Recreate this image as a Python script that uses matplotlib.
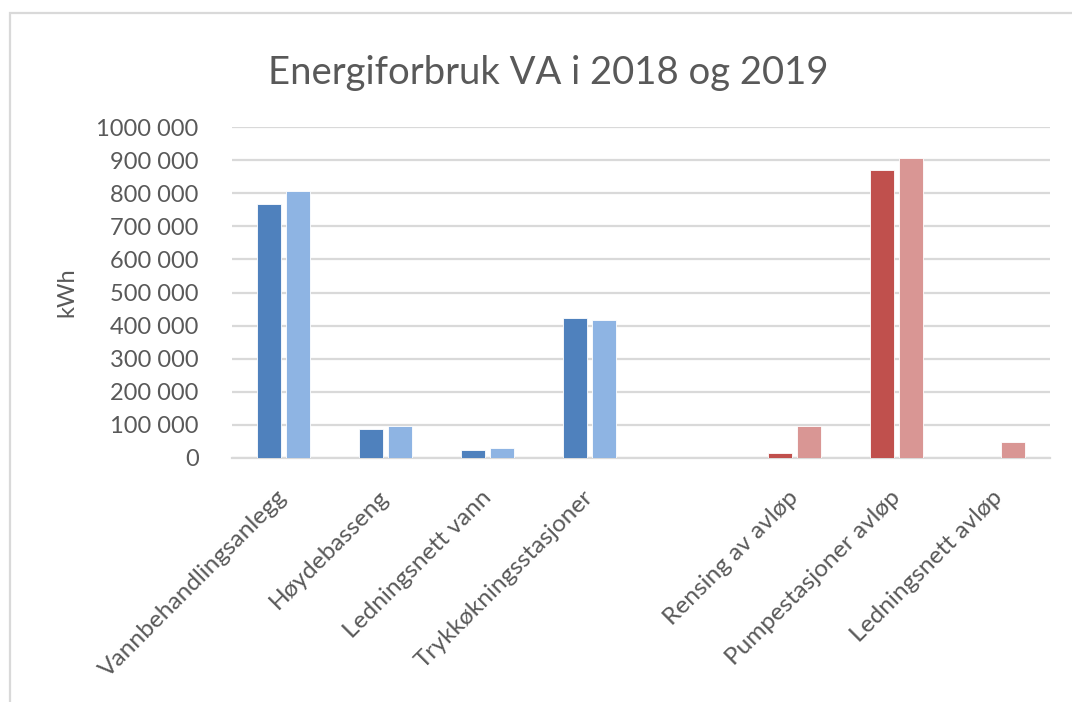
import matplotlib
matplotlib.use("Agg")
import matplotlib.pyplot as plt
import numpy as np
from matplotlib.patches import Rectangle
from matplotlib.ticker import FuncFormatter, MultipleLocator

# Energy use (kWh) per part of the water/wastewater system
categories = ["Vannbehandlingsanlegg", "Høydebasseng", "Ledningsnett vann",
              "Trykkøkningsstasjoner", "", "Rensing av avløp",
              "Pumpestasjoner avløp", "Ledningsnett avløp"]
values_2018 = [766000, 88000, 25000, 422000, 0, 16000, 869000, 0]
values_2019 = [807000, 98000, 29000, 418000, 0, 98000, 905000, 47000]
is_wastewater = [False, False, False, False, False, True, True, True]

water_colors = ("#4F81BD", "#8EB4E3")
waste_colors = ("#C0504D", "#D99694")

plt.rcParams['font.family'] = ['Lato', 'DejaVu Sans']
text_color = "#595959"
grid_color = "#D9D9D9"

fig = plt.figure(figsize=(10.72, 7.02), dpi=100)
fig.patch.set_facecolor("white")

# outer chart frame
fig.patches.append(Rectangle((10 / 1072, -0.05), 1.1, (702 - 13) / 702 + 0.05,
                             transform=fig.transFigure, fill=False,
                             edgecolor=grid_color, linewidth=1.6))

ax = fig.add_axes([232 / 1072, 1 - 458 / 702, (1050 - 232) / 1072, (458 - 127) / 702])

x = np.arange(len(categories))
width = 0.235
offset = 0.142
c18 = [waste_colors[0] if w else water_colors[0] for w in is_wastewater]
c19 = [waste_colors[1] if w else water_colors[1] for w in is_wastewater]
ax.bar(x - offset, values_2018, width, color=c18, edgecolor="white", linewidth=0.6, zorder=3)
ax.bar(x + offset, values_2019, width, color=c19, edgecolor="white", linewidth=0.6, zorder=3)

ax.set_xlim(-0.5, len(categories) - 0.5)
ax.set_ylim(0, 1000000)
ax.yaxis.set_major_locator(MultipleLocator(100000))


def fmt(v, _):
    v = int(round(v))
    if v == 0:
        return "0"
    s = f"{v:,}".replace(",", " ")
    if v >= 1000000:
        s = s.replace(" ", "", 1)
    return s


ax.yaxis.set_major_formatter(FuncFormatter(fmt))
ax.grid(axis="y", color=grid_color, linewidth=1.6, zorder=0)
for side in ("top", "right", "left"):
    ax.spines[side].set_visible(False)
ax.spines["bottom"].set_color(grid_color)
ax.spines["bottom"].set_linewidth(1.6)
ax.tick_params(axis="y", length=0, pad=24, labelsize=17, labelcolor=text_color)
ax.tick_params(axis="x", length=0, pad=26)

ax.set_xticks(x)
ax.set_xticklabels(categories, rotation=45, ha="right", va="center",
                   rotation_mode="anchor", fontsize=17.6, color=text_color)

ax.set_ylabel("kWh", fontsize=17, color=text_color, labelpad=14)
fig.text(0.511, 1 - 84 / 702, "Energiforbruk VA i 2018 og 2019", ha="center",
         va="baseline", fontsize=27.5, color=text_color)

fig.savefig("out.png", dpi=100, facecolor="white")
